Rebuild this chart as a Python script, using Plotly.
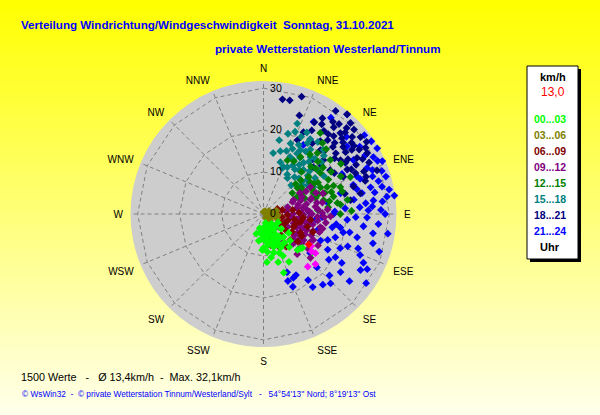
import numpy as np
import plotly.graph_objects as go

# hour classes shown in the key (drawn latest first, so earliest ends on top)
hour_ranges = ['00...03', '03...06', '06...09', '09...12', '12...15', '15...18', '18...21', '21...24']
hour_colors = ['#00FF00', '#808000', '#800000', '#800080', '#008000', '#008080', '#000080', '#0000FF']

# (direction deg, speed km/h)
pts_00_03 = [(183, 4.5), (180, 8.1), (171, 6.3), (159, 5.9), (154, 7.7), (153, 9), (163, 8.2), (156, 4.2),
             (137, 4.2), (167, 2.2), (139, 7.3), (127, 7.5), (136.6, 11.8), (131, 12.3), (128, 14.8), (163, 12),
             (152, 12.9), (161, 14.8), (189, 4.6), (182, 8.6), (174, 9.1), (175, 3), (185, 6), (168, 5),
             (160, 3.5), (150, 5.5), (145, 6.5), (165, 7), (172, 7.5), (178, 5.5), (158, 10), (148, 8.5),
             (142, 10), (170, 10.5), (190, 6.5), (195, 3.5), (140, 3), (130, 5.5), (120, 4), (200, 5), (176, 11.5),
             (150, 7), (155, 11), (160, 8), (165, 9.5), (170, 4), (176, 6.5), (180, 5), (186, 4),
             (162, 5), (147, 4.5), (152, 3), (144, 8.5), (135, 9), (133, 12), (156, 6.5)]
pts_03_06 = [(0, 0.5), (104, 1), (96, 2.1), (104, 2.9), (153, 1.1), (120, 1.9), (80, 2.5), (60, 1.5),
             (30, 0.8), (110, 3.5), (90, 1.2), (135, 2.2), (75, 3.2), (95, 3.4)]
pts_06_09 = [(86, 3.3), (92, 5.7), (118, 4.6), (113, 7.8), (117, 9.9), (134, 8.9), (129, 10.5), (152, 5.1),
             (167, 7.6), (126, 6.5), (106, 10.9), (110, 12.5), (97, 11.3), (102, 9), (78, 4.6), (82, 7),
             (95, 3), (100, 4.5), (105, 6), (108, 8), (122, 8), (140, 6.5), (145, 9.5),
             (160, 6), (100, 7.5), (88, 8.5), (115, 5.5), (130, 4), (155, 8.5), (95, 9.5),
             (120, 10.5), (70, 3.5), (148, 4)]
pts_09_12 = [(60, 10), (73, 11.7), (85, 10.5), (93, 12.9), (95, 8.8), (107, 7.5), (110, 11), (103, 13.9),
             (117.5, 13.4), (123, 11.4), (119, 9.3), (118, 6.5), (96, 6.5), (74, 6), (65, 7.9), (86, 15.3),
             (60, 12.9), (71, 15), (132, 11.8), (144.5, 8.2), (131, 4.7), (79, 14.3), (133, 15.3), (67.5, 7.5),
             (80, 8), (88, 9), (90, 11.5), (100, 10), (102, 12), (98, 15), (105, 9), (112, 8.5),
             (114, 12.5), (125, 9), (128, 13.5), (135, 10), (70, 9.5), (77, 10.5), (82, 12.5), (93, 14.5),
             (108, 14), (120, 15), (90, 7), (84, 5.5), (62, 11.5), (68, 13.5), (140, 12.5), (110, 5.5),
             (75, 8.5), (78, 13), (81, 9.5), (85, 13), (87, 11), (89, 14), (91, 9.5), (94, 11),
             (97, 13), (99, 8), (101, 11), (104, 14.5), (106, 10.5), (109, 12.5), (111, 9.8), (116, 11),
             (121, 13), (124, 10.5), (127, 11.5), (72, 12), (66, 10), (92, 16), (130, 9.5)]
pts_12_15 = [(52.6, 10.2), (50.6, 13.9), (54, 16.7), (67, 16.5), (76, 17.2), (70.7, 19.4), (51, 20.5), (41.5, 19.4),
             (39.7, 22), (33, 16.2), (24, 14), (63, 9), (90, 18.3), (81.5, 17.8), (80.5, 20.3), (67, 12.9),
             (77, 14.7), (67, 22.5), (35, 23.6), (45, 16), (48, 12), (56, 13.5), (58, 19), (60, 15),
             (62, 17.5), (64, 20.5), (71, 15.5), (73, 13), (84, 15.5), (86, 13), (88, 21), (44, 21.5),
             (38, 18), (30, 14.5), (57, 22), (61, 11), (74, 19.5), (69, 10.5), (54, 8.5),
             (46, 18), (49, 16.5), (52, 18), (55, 11), (59, 14), (63, 13), (65, 15), (68, 18),
             (70, 14), (72, 17), (79, 16), (83, 18.5), (47, 10.5), (42, 13.5)]
pts_15_18 = [(20.5, 23), (21, 21), (9, 14.7), (23, 12.2), (33.7, 10.3), (29, 14.7), (21, 18), (30, 17.6),
             (31.8, 19.9), (39.5, 17.6), (42, 14.2), (52, 13.2), (51, 16.6), (43, 20.9), (61.6, 13.5), (52, 10.5),
             (22, 11.8), (15, 15.5), (12, 18), (25, 15), (27, 12.5), (35, 13), (38, 15.5), (45, 12),
             (47, 15), (48, 18.5), (36, 19), (33, 16), (40, 11.5), (44, 9.5), (55, 15), (58, 17),
             (26, 20.5), (18, 13), (31, 11), (37, 21.5), (50, 12), (28, 22), (46, 20), (57, 12.5),
             (24, 17), (27, 18.5), (32, 21), (34, 18), (39, 13.5), (41, 16.5), (43, 18), (49, 14),
             (53, 11.5), (29, 16.5), (36, 14.5), (20, 16), (17, 20), (31, 13.5)]
pts_18_21 = [(9.4, 27.7), (13, 27.8), (18, 29.4), (29, 25), (31.6, 26.8), (39, 26.6), (43.5, 26.6), (40, 31),
             (43.7, 30), (51.6, 29.5), (50, 24.8), (46, 23), (41, 23.3), (41.7, 20.4), (55, 22.4), (62, 22.6),
             (59, 26), (59.6, 28.7), (73, 22.4), (78, 23.6), (65, 21), (56.7, 19), (48, 19.2), (34.6, 20.5),
             (26, 21.7), (46.8, 16.3), (69, 29), (81, 21), (88, 11), (24.7, 19.4), (36, 24.5), (45, 27.5),
             (48, 25.5), (53, 27), (57, 24), (52, 21.5), (44, 21), (38, 22), (62, 25), (66, 24),
             (70, 26), (64, 28), (55, 30), (47, 29.5), (35, 30), (30, 23), (20, 25), (50, 18),
             (60, 19.5), (72, 25.5), (76, 20), (42, 17.5), (40, 28), (42, 25), (46, 26), (49, 28),
             (51, 27), (53, 24.5), (54, 26), (56, 27.5), (58, 23), (61, 27), (63, 23.5), (67, 26),
             (50, 22.5), (45, 24), (39, 24.5), (33, 25.5), (37, 27.5), (57, 29), (44, 28.5)]
pts_21_24 = [(32, 21), (28.5, 25), (40, 31), (82, 31.5), (99, 30), (108, 29), (120, 26.7), (127, 23),
             (146, 21), (158, 18.7), (158, 15), (146, 19), (119, 17.5), (101, 16.7), (94, 20), (92, 24.7),
             (100, 26.5), (111, 21.5), (115, 15), (100, 18.6), (86, 23), (83, 26.4), (82, 29.7), (76, 26.3),
             (68, 24), (66, 27), (62.6, 29.5), (60, 31.3), (59, 25), (51, 25.6), (80, 15.5), (75, 19),
             (81, 21.8), (90, 16.7), (70, 30), (74, 28.5), (88, 28), (95, 27.5), (104, 23), (113, 25),
             (125, 19), (133, 21.5), (140, 22), (130, 14.5), (106, 13.5), (96, 12.5), (63, 21), (55, 28),
             (47, 27), (35, 28), (30, 19), (72, 22.5), (78, 24), (86, 19.5), (118, 28), (124, 29.5),
             (108, 18), (152, 16.5), (160, 17), (155, 16.8), (65, 30), (68, 28), (71, 27.5), (73, 30.5),
             (77, 29), (79, 27), (84, 24.5), (60, 28), (56, 31), (52, 30.5), (70, 24.5), (75, 23),
             (86, 26), (90, 29), (88, 25), (92, 22), (97, 24), (102, 21), (105, 27), (110, 24),
             (114, 20), (116, 26.5), (122, 22), (128, 26), (135, 18), (136, 23), (98, 17.5), (93, 14),
             (103, 19.5), (112, 16.5), (121, 20), (84, 28.5), (79, 30.5), (66, 31), (88, 17)]
groups = [pts_00_03, pts_03_06, pts_06_09, pts_09_12, pts_12_15, pts_15_18, pts_18_21, pts_21_24]

pts_recent = [(124, 13.7), (127, 15.5), (134, 17.2), (140, 16.4), (128, 14.5)]
now_dir, now_speed = [124], [13.0]

compass = ['N', 'NNE', 'NE', 'ENE', 'E', 'ESE', 'SE', 'SSE', 'S', 'SSW', 'SW', 'WSW', 'W', 'WNW', 'NW', 'NNW']
compass_deg = [0, 22.5, 45, 67.5, 90, 112.5, 135, 157.5, 180, 202.5, 225, 247.5, 270, 292.5, 315, 337.5]
rad_ticks = [0, 10, 20, 30]
r_max = 31.7

n_values = 1500
mean_speed = '13,4'
max_speed = '32,1'

W, H = 600, 415
def px(x):
    return x / W
def py(y):
    return 1 - y / H

fig = go.Figure()

grid_dash = '4px,3px'
# polygon grid rings (16 corners, like the original)
for rt in rad_ticks[1:]:
    fig.add_trace(go.Scatterpolar(r=[rt] * 17, theta=compass_deg + [0], mode='lines',
                                  line=dict(color='#808080', width=1, dash=grid_dash),
                                  hoverinfo='skip', showlegend=False))

for pts, col in reversed(list(zip(groups, hour_colors))):
    fig.add_trace(go.Scatterpolar(theta=[p[0] for p in pts], r=[p[1] for p in pts], mode='markers',
                                  marker=dict(symbol='diamond', size=6, color=col, line=dict(width=0)),
                                  hoverinfo='skip', showlegend=False))
fig.add_trace(go.Scatterpolar(theta=[p[0] for p in pts_recent], r=[p[1] for p in pts_recent], mode='markers',
                              marker=dict(symbol='diamond', size=6, color='#FF00FF'),
                              hoverinfo='skip', showlegend=False))
fig.add_trace(go.Scatterpolar(theta=now_dir, r=now_speed, mode='markers',
                              marker=dict(symbol='diamond', size=6, color='#FF0000'),
                              hoverinfo='skip', showlegend=False))

fig.update_layout(
    width=W, height=H, autosize=False,
    margin=dict(l=0, r=0, t=0, b=0),
    paper_bgcolor='#FFFFF0',
    showlegend=False,
    font=dict(family='Liberation Sans, Arial', size=11, color='black'),
    polar=dict(
        domain=dict(x=[px(130), px(397)], y=[py(347), py(81)]),
        bgcolor='#CDCDCD',
        radialaxis=dict(range=[0, r_max], angle=90, side='clockwise', tickangle=90,
                        tickvals=rad_ticks, showgrid=False, showline=False,
                        ticks='outside', ticklen=4, tickcolor='rgba(0,0,0,0)',
                        tickfont=dict(size=10.5, color='black')),
        angularaxis=dict(rotation=90, direction='clockwise', tickmode='array',
                         tickvals=compass_deg, ticktext=compass,
                         ticks='outside', ticklen=5, tickcolor='rgba(0,0,0,0)', showline=False,
                         gridcolor='#808080', griddash=grid_dash, gridwidth=1,
                         tickfont=dict(size=10, color='black')),
    ),
)

# yellow gradient background in bands
shapes = []
band = 5
for y0 in range(0, H, band):
    t = (y0 + band / 2) / H
    b = int(round(235 * t))
    shapes.append(dict(type='rect', xref='paper', yref='paper', x0=0, x1=1, y0=py(y0 + band), y1=py(y0),
                       fillcolor=f'rgb(255,255,{b})', line=dict(width=0), layer='below'))
# key box with shadow
shapes.append(dict(type='rect', xref='paper', yref='paper', x0=px(530), x1=px(581), y0=py(262), y1=py(69),
                   fillcolor='black', line=dict(width=0)))
shapes.append(dict(type='rect', xref='paper', yref='paper', x0=px(527), x1=px(578), y0=py(259), y1=py(66),
                   fillcolor='white', line=dict(color='black', width=1)))
fig.update_layout(shapes=shapes)

sans = 'Liberation Sans, Arial'
title_font = dict(family=sans, size=11.6, color='#0000FF')

def note(text, x, y, font, anchor='left'):
    fig.add_annotation(text=text, x=px(x), y=py(y), xref='paper', yref='paper',
                       xanchor=anchor, yanchor='middle', showarrow=False, font=font)

note('<b>Verteilung Windrichtung/Windgeschwindigkeit\u00a0 Sonntag, 31.10.2021</b>', 19, 25, title_font)
note('<b>private Wetterstation Westerland/Tinnum</b>', 213, 49, title_font)
note(f'{n_values} Werte\u00a0\u00a0 -\u00a0\u00a0 Ø {mean_speed}km/h\u00a0 -\u00a0 Max. {max_speed}km/h', 19, 377,
     dict(family=sans, size=10.8, color='black'))
note("© WsWin32\u00a0 -\u00a0 © private Wetterstation Tinnum/Westerland/Sylt\u00a0\u00a0 -\u00a0\u00a0 "
     "54°54'13'' Nord; 8°19'13'' Ost", 20, 394, dict(family=sans, size=8.3, color='#0000FF'))

note('<b>km/h</b>', 553, 77, dict(family=sans, size=11, color='black'), 'center')
note(f'{now_speed[0]:.1f}'.replace('.', ','), 567, 92, dict(family=sans, size=12, color='#FF0000'), 'right')
for i, (lab, col) in enumerate(zip(hour_ranges, hour_colors)):
    note(f'<b>{lab}</b>', 550, 119 + 16 * i, dict(family=sans, size=10.5, color=col), 'center')
note('<b>Uhr</b>', 550, 247, dict(family=sans, size=11, color='black'), 'center')

# page body has a default margin; drop it so the figure sits at the window corner
fig.write_html('out.html', config={'displayModeBar': False},
               post_script="document.body.style.margin='0px';")
